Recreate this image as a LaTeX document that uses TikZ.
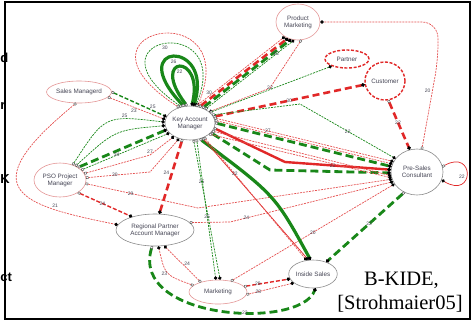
\documentclass[tikz,border=0pt]{standalone}
\usepackage{fontspec}
\setmainfont{Liberation Serif}
\setsansfont{Liberation Sans}
\usetikzlibrary{arrows.meta,shapes.geometric}
\definecolor{rd}{RGB}{225,40,40}
\definecolor{rdl}{RGB}{228,80,80}
\definecolor{gn}{RGB}{25,135,25}
\definecolor{pk}{RGB}{228,150,150}
\definecolor{gy}{RGB}{140,140,140}
\definecolor{tx}{RGB}{70,70,85}
\tikzset{
  ent/.style={ellipse, draw=pk, line width=0.6pt, fill=white, inner sep=0pt, text=tx,
    font=\sffamily\fontsize{6.3}{7}\selectfont, align=center},
  entg/.style={ent, draw=gy},
  entr/.style={ent, draw=rd, line width=1.4pt, dash pattern=on 3pt off 1.6pt},
  ar/.style={arrows={Square[length=2.4pt,width=2.4pt,line width=0.4pt,color=black!70,fill=white]-Circle[length=3.4pt,width=3.4pt,color=black]}},
  tR/.style={draw=rdl, line width=0.7pt, dash pattern=on 2pt off 1pt, ar},
  tG/.style={draw=gn, line width=0.7pt, dash pattern=on 2pt off 1pt, ar},
  mR/.style={draw=rd, line width=1.4pt, dash pattern=on 4pt off 2pt, ar},
  mG/.style={draw=gn, line width=1.4pt, dash pattern=on 4pt off 2pt, ar},
  kR/.style={draw=rd, line width=2.6pt, dash pattern=on 7pt off 4pt, ar},
  kG/.style={draw=gn, line width=2.8pt, dash pattern=on 8pt off 4pt, ar},
  sG/.style={draw=gn, line width=3.2pt, ar},
  sR/.style={draw=rd, line width=2.4pt, ar},
  sRt/.style={draw=rd, line width=0.7pt, ar},
  lbl/.style={font=\sffamily\fontsize{5}{5}\selectfont, text=tx, inner sep=0.5pt},
  frag/.style={font=\sffamily\bfseries\fontsize{13}{13}\selectfont, anchor=base west, inner sep=0pt},
  big/.style={font=\fontsize{20.5}{24}\selectfont, anchor=base, inner sep=0pt}
}
\begin{document}
\begin{tikzpicture}[x=1pt,y=-1pt]
\useasboundingbox (0,0) rectangle (473,322);
% frame and fragments
\draw[line width=1.6pt] (5,2) rectangle (470,319);
\node[frag] (f1) at (0.3,62) {d};
\node[frag] (f2) at (0.3,109) {r};
\node[frag] (f3) at (0.3,183) {K};
\node[frag] (f4) at (0.3,281) {ct};
% nodes
\node[entg, minimum width=50pt, minimum height=34pt] (kam) at (190,123) {Key Account\\Manager};
\node[ent, minimum width=44pt, minimum height=36pt] (pm) at (298,22) {Product\\Marketing};
\node[entr, minimum width=44pt, minimum height=18pt] (partner) at (347,59) {Partner};
\node[entr, minimum width=40pt, minimum height=38pt] (customer) at (385,81) {Customer};
\node[ent, minimum width=56pt, minimum height=22pt] (sm) at (79,92) {Sales Managerd};
\node[ent, minimum width=52pt, minimum height=34pt] (pso) at (60,180) {PSO Project\\Manager};
\node[entg, minimum width=78pt, minimum height=32pt] (rpam) at (155,230) {Regional Partner\\Account Manager};
\node[entg, minimum width=52pt, minimum height=46pt] (psc) at (417,172) {Pre-Sales\\Consultant};
\node[entg, minimum width=46pt, minimum height=28pt] (is) at (313,274) {Inside Sales};
\node[ent, minimum width=58pt, minimum height=24pt] (mkt) at (218,292) {Marketing};
% KAM self loops
\draw[tR] (kam.125) .. controls (55,28) and (245,-8) .. (kam.66);
\draw[tG] (kam.118) .. controls (78,36) and (236,10) .. (kam.72) node[lbl,pos=.5,below=1pt]{30};
\draw[sG] (kam.110) .. controls (122,42) and (215,38) .. (kam.78) node[lbl,pos=.5,below=1pt]{26};
\draw[sG] (kam.100) .. controls (148,55) and (205,52) .. (kam.84) node[lbl,pos=.5,below=1pt]{22};
% KAM - Product Marketing
\draw[tR] (kam.70) -- node[lbl,pos=.2,left=1pt]{30} (pm.228);
\draw[kR] (kam.60) -- (pm.238);
\draw[kG] (kam.50) -- (pm.248);
\draw[tG] (kam.42) -- node[lbl,pos=.8]{22} (pm.258);
\draw[tR] (pm.280) -- (270,88) node[lbl]{22} -- (kam.30);
% Partner, Customer
\draw[tG] (kam.28) -- (partner.205);
\draw[kR] (kam.15) -- node[lbl,pos=.5]{30} (customer.190);
\draw[kR] (customer.280) -- node[lbl,pos=.45]{22} (psc.108);
% Pre-Sales -> Product Marketing
\draw[tR, rounded corners=16pt] (psc.78) -- node[lbl,pos=.65,left=1pt]{20} (438,60) -- (438,22) -- (pm.east);
% KAM - Pre-Sales bundle
\draw[tG] (kam.20) -- (300,104) -- node[lbl,pos=.5]{22} (psc.148);
\draw[tR] (kam.12) -- node[lbl,pos=.3]{27} (psc.156);
\draw[tR] (kam.6) -- (psc.162);
\draw[kG] (kam.0) -- (psc.168);
\draw[sR] (kam.-12) -- (285,162) -- node[lbl,pos=.45]{22} (psc.175);
\draw[kG] (kam.-25) -- (270,170) -- (psc.182);
\draw[tR] (kam.-20) -- (psc.188);
\draw[tR] (kam.-30) -- (psc.193);
% crossing lines to Pre-Sales
\draw[tR] (pso.-8) -- node[lbl,pos=.4]{29} (198,208) -- (psc.196);
\draw[tR] (rpam.12) -- (230,222) -- node[lbl,pos=.1]{24} (psc.202);
\draw[tR] (mkt.40) -- node[lbl,pos=.5]{20} (psc.208);
% KAM - Inside Sales
\draw[sG] (kam.-58) .. controls (275,195) .. (is.100);
\draw[sRt] (kam.-50) -- (is.108);
\draw[tR] (kam.-45) -- node[lbl,pos=.3]{22} (is.115);
% KAM - RPAM
\draw[kR] (kam.245) -- node[lbl,pos=.45,left=1pt]{24} (rpam.75);
% KAM - Marketing
\draw[tG] (kam.282) -- node[lbl,pos=.3]{25} (mkt.80);
\draw[tG] (kam.292) -- node[lbl,pos=.55]{25} (mkt.100);
% Sales Managerd
\draw[mG] (sm.east) -- node[lbl,pos=.75,above=1pt]{25} (kam.165);
\draw[tR] (sm.-10) -- node[lbl,pos=.45,below=1pt]{23} (kam.172);
\draw[tR] (sm.255) .. controls (-30,190) and (20,205) .. (rpam.172) node[lbl,pos=.75,above=1pt]{21};
% PSO - KAM
\draw[tG] (pso.50) .. controls (105,115) .. (kam.178) node[lbl,pos=.7,above]{25};
\draw[tG] (pso.42) .. controls (115,130) .. (kam.186);
\draw[kG] (pso.35) -- (kam.196);
\draw[tG] (pso.25) -- node[lbl,pos=.4]{34} (kam.206);
\draw[tR] (pso.15) -- (150,155) node[lbl,above=1pt]{27} -- (kam.220);
\draw[tR] (pso.5) -- node[lbl,pos=.45]{30} (150,172) -- (kam.235);
% PSO - RPAM
\draw[mR] (pso.-35) -- node[lbl,pos=.45]{24} (rpam.150);
% Marketing - RPAM
\draw[tR] (mkt.165) .. controls (165,275) .. (rpam.-78) node[lbl,pos=.45,left=1pt]{23};
\draw[tR] (mkt.150) -- node[lbl,pos=.5,right=1pt]{24} (rpam.-60);
% RPAM - Inside Sales
\draw[kG] (rpam.-100) .. controls (130,320) and (300,330) .. (is.-80) node[lbl,pos=.6]{22};
% Marketing - Inside Sales
\draw[mR] (mkt.12) -- node[lbl,pos=.3]{29} (is.192);
\draw[tR] (mkt.-5) -- node[lbl,pos=.25]{28} (is.205);
% Pre-Sales - Inside Sales
\draw[kG] (psc.238) -- node[lbl,pos=.45]{22} (is.42);
% Pre-Sales self loop
\draw[sRt] (psc.12) .. controls (475,148) and (475,200) .. (psc.-18) node[lbl,pos=.55,left=1pt]{22};
% caption
\node[big] (t1) at (401.5,285) {B-KIDE,};
\node[big] (t2) at (400,309) {[Strohmaier05]};
\end{tikzpicture}
\end{document}
